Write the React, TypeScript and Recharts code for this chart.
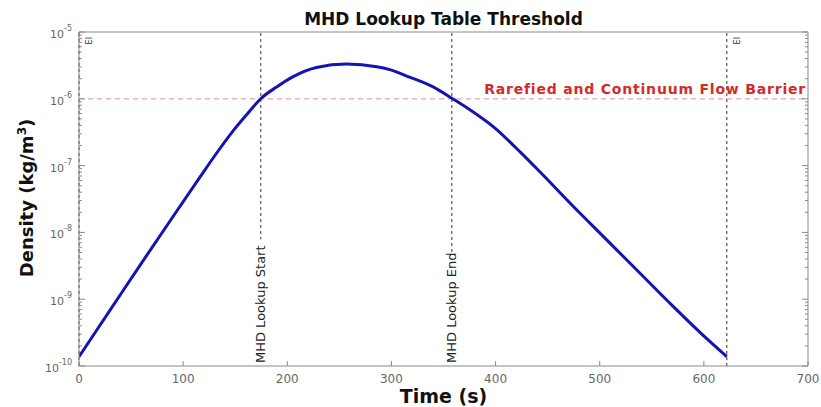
import { LineChart, Line, XAxis, YAxis, ReferenceLine } from "recharts";

// Density profile (time in s, density in kg/m^3)
const times = [0, 30, 60, 90, 115, 130, 148, 162, 175, 190, 203, 228, 257, 286, 300, 318, 330, 340, 358, 375, 398, 424, 443, 474, 506, 538, 570, 602, 622];
const densities = [
  1.38e-10, 6.92e-10, 3.47e-9, 1.7e-8, 6.31e-8, 1.38e-7, 3.31e-7, 6.03e-7, 1.02e-6, 1.51e-6, 2.04e-6, 2.95e-6, 3.31e-6,
  3.02e-6, 2.69e-6, 2.09e-6, 1.78e-6, 1.51e-6, 1.02e-6, 6.92e-7, 3.8e-7, 1.58e-7, 7.94e-8, 2.51e-8, 7.94e-9, 2.51e-9,
  7.94e-10, 2.63e-10, 1.38e-10,
];

const eventTimes = [0, 174.5, 358, 622];
const eventLabels = ["EI", "MHD Lookup Start", "MHD Lookup End", "EI"];

const barrierDensity = 1e-6;
const barrierLabel = "Rarefied and Continuum Flow Barrier";

const xTicks = [0, 100, 200, 300, 400, 500, 600, 700];
const yMajorTicks = [1e-10, 1e-9, 1e-8, 1e-7, 1e-6, 1e-5];
const yDecades = [1e-10, 1e-9, 1e-8, 1e-7, 1e-6];
const yMinorSteps = [2, 3, 4, 5, 6, 7, 8, 9];
const yMinorTicks = yDecades.flatMap((d) => yMinorSteps.map((m) => m * d));
const yAllTicks = [...yMajorTicks, ...yMinorTicks].sort((a, b) => a - b);

const data = times.map((time, i) => ({ time, density: densities[i] }));

const FONT = "DejaVu Sans, sans-serif";
const AXIS = "#8a8a8a";
const TICK_TEXT = "#666";

function isMajor(v: number) {
  return yMajorTicks.some((m) => Math.abs(m - v) / m < 1e-6);
}

function BottomTick(props: any) {
  const { x, y, payload } = props;
  return (
    <g>
      <line x1={x} y1={y} x2={x} y2={y - 5} stroke={AXIS} strokeWidth={1} />
      <text x={x} y={y + 17} textAnchor="middle" fill={TICK_TEXT} fontSize={12} fontFamily={FONT}>
        {payload.value}
      </text>
    </g>
  );
}

function TopTick(props: any) {
  const { x, y } = props;
  return <line x1={x} y1={y} x2={x} y2={y + 5} stroke={AXIS} strokeWidth={1} />;
}

function LeftTick(props: any) {
  const { x, y, payload } = props;
  if (!isMajor(payload.value)) {
    return <line x1={x} y1={y} x2={x + 3} y2={y} stroke={AXIS} strokeWidth={1} />;
  }
  const exp = Math.round(Math.log10(payload.value));
  return (
    <g>
      <line x1={x} y1={y} x2={x + 6} y2={y} stroke={AXIS} strokeWidth={1} />
      <text x={x - 7} y={y + 6} textAnchor="end" fill={TICK_TEXT} fontSize={11} fontFamily={FONT}>
        10
        <tspan dy={-7} fontSize={8}>
          {exp}
        </tspan>
      </text>
    </g>
  );
}

function RightTick(props: any) {
  const { x, y, payload } = props;
  const len = isMajor(payload.value) ? 6 : 3;
  return <line x1={x} y1={y} x2={x - len} y2={y} stroke={AXIS} strokeWidth={1} />;
}

function EventLabel(props: any) {
  const { viewBox, text } = props;
  if (!viewBox) return null;
  const lx = viewBox.x;
  const top = viewBox.y;
  const bottom = viewBox.y + viewBox.height;
  if (text === "EI") {
    const bx = lx + 13;
    const by = top + 5;
    return (
      <text x={bx} y={by} transform={`rotate(-90 ${bx} ${by})`} textAnchor="end" fontSize={8} fill="#333" fontFamily={FONT}>
        {text}
      </text>
    );
  }
  const bx = lx + 4.5;
  const by = bottom - 3;
  const len = text.length * 7.6;
  return (
    <g>
      <rect x={lx - 6} y={by - len - 2} width={12} height={len + 5} fill="#fff" />
      <text x={bx} y={by} transform={`rotate(-90 ${bx} ${by})`} textAnchor="start" fontSize={13} fill="#222" fontFamily={FONT}>
        {text}
      </text>
    </g>
  );
}

function BarrierLabel(props: any) {
  const { viewBox } = props;
  if (!viewBox) return null;
  return (
    <text
      x={viewBox.x + viewBox.width - 2}
      y={viewBox.y - 5}
      textAnchor="end"
      fontSize={14}
      fontWeight="bold"
      letterSpacing={0.8}
      fill="#d42a2a"
      fontFamily={FONT}
    >
      {barrierLabel}
    </text>
  );
}

export default function App() {
  return (
    <div style={{ position: "absolute", left: 0, top: 0, width: 821, height: 407, background: "#fff" }}>
      <LineChart width={821} height={407} data={data} margin={{ top: 31, right: 12, bottom: 40, left: 78 }}>
        <XAxis
          dataKey="time"
          type="number"
          domain={[0, 700]}
          ticks={xTicks}
          interval={0}
          height={1}
          tickSize={0}
          tickMargin={0}
          tickLine={false}
          tick={<BottomTick />}
          axisLine={{ stroke: AXIS }}
          allowDataOverflow
        />
        <XAxis
          xAxisId="top"
          orientation="top"
          type="number"
          domain={[0, 700]}
          ticks={xTicks}
          interval={0}
          height={1}
          tickSize={0}
          tickMargin={0}
          tickLine={false}
          tick={<TopTick />}
          axisLine={{ stroke: AXIS }}
          allowDataOverflow
        />
        <YAxis
          scale="log"
          type="number"
          domain={[1e-10, 1e-5]}
          ticks={yAllTicks}
          interval={0}
          width={1}
          tickSize={0}
          tickMargin={0}
          tickLine={false}
          tick={<LeftTick />}
          axisLine={{ stroke: AXIS }}
          allowDataOverflow
        />
        <YAxis
          yAxisId="right"
          orientation="right"
          scale="log"
          type="number"
          domain={[1e-10, 1e-5]}
          ticks={yAllTicks}
          interval={0}
          width={1}
          tickSize={0}
          tickMargin={0}
          tickLine={false}
          tick={<RightTick />}
          axisLine={{ stroke: AXIS }}
          allowDataOverflow
        />
        <ReferenceLine
          y={barrierDensity}
          stroke="#e8a4a4"
          strokeWidth={1.2}
          strokeDasharray="5 4"
          label={<BarrierLabel />}
        />
        {eventTimes.map((t, i) => (
          <ReferenceLine
            key={`ev-${i}`}
            x={t}
            stroke="#555"
            strokeWidth={1.2}
            strokeDasharray="3 3"
            label={<EventLabel text={eventLabels[i]} />}
          />
        ))}
        <Line
          type="monotone"
          dataKey="density"
          stroke="#1414b4"
          strokeWidth={3}
          dot={false}
          isAnimationActive={false}
        />
      </LineChart>
      <svg width={821} height={407} style={{ position: "absolute", left: 0, top: 0, pointerEvents: "none" }}>
        <text x={443.5} y={25} textAnchor="middle" fontSize={17} fontWeight="bold" fill="#111" fontFamily={FONT}>
          MHD Lookup Table Threshold
        </text>
        <text x={443.5} y={403} textAnchor="middle" fontSize={19} fontWeight="bold" fill="#111" fontFamily={FONT}>
          Time (s)
        </text>
        <text
          x={33}
          y={198}
          transform="rotate(-90 33 198)"
          textAnchor="middle"
          fontSize={18}
          fontWeight="bold"
          fill="#111"
          fontFamily={FONT}
        >
          Density (kg/m
          <tspan dy={-7} fontSize={12}>
            3
          </tspan>
          <tspan dy={7}>)</tspan>
        </text>
      </svg>
    </div>
  );
}
